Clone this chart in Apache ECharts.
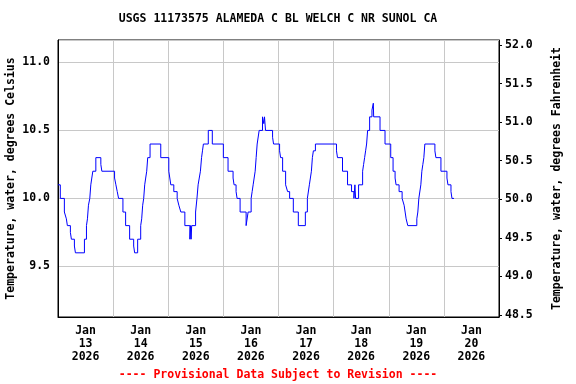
<!DOCTYPE html>
<html>
<head>
<meta charset="utf-8">
<script src="https://cdn.jsdelivr.net/npm/echarts@6/dist/echarts.min.js"></script>
<style>html,body{margin:0;padding:0;background:#fff}#c{width:576px;height:384px}</style>
</head>
<body>
<div id="c"></div>
<script>
// Hours since Jan 13 2026 00:00 at which the reading changes, and the reading (deg C) from then on
const hours = [0, 1.0, 2.77, 3.64, 4.08, 5.39, 5.83, 7.14, 7.58, 11.51, 12.39, 12.82, 13.26, 13.84, 14.28, 14.72, 15.16, 16.47, 18.65, 19.09,
  24.63, 25.21, 25.79, 26.38, 28.27, 29.44, 31.19, 32.94, 33.37, 34.68, 36.0, 36.44, 36.87, 37.31, 37.75, 38.18, 38.62, 39.06, 40.08, 44.74,
  48.24, 49.11, 50.42, 51.88, 52.61, 53.48, 55.23, 57.42, 57.7, 57.95, 58.2, 59.9, 60.5, 61.0, 61.5, 62.0, 62.5, 62.9, 63.3, 65.43, 67.18,
  71.99, 74.03, 76.22, 76.65, 77.53, 77.97, 79.28, 81.9, 82.77, 84.09, 84.53, 84.96, 85.4, 85.84, 86.27, 86.71, 87.58, 89.04, 89.6, 89.9, 90.35, 93.42, 93.85,
  96.47, 96.91, 97.79, 99.1, 99.97, 100.85, 102.45, 104.63, 107.69, 108.57, 109.44, 109.88, 110.32, 110.75, 111.19, 112.07,
  121.25, 121.69, 123.87, 126.06, 127.8, 128.83, 129.27, 129.56, 130.87, 132.62, 133.05, 133.49, 133.93, 134.36, 134.8, 135.68, 136.7, 137.28, 137.43, 140.2, 142.38,
  144.86, 145.88, 146.76, 147.19, 148.5, 149.82, 150.69, 151.13, 151.57, 152.29, 156.22, 156.66, 157.1, 157.97, 158.41, 158.85, 159.28, 159.72, 164.09, 164.53, 166.72,
  169.34, 169.78, 171.09, 171.53, 172.4];
const tempC = [10.1, 10.0, 9.9, 9.85, 9.8, 9.75, 9.7, 9.65, 9.6, 9.7, 9.8, 9.85, 9.95, 10.0, 10.1, 10.15, 10.2, 10.3, 10.25, 10.2,
  10.15, 10.1, 10.05, 10.0, 9.9, 9.8, 9.7, 9.65, 9.6, 9.7, 9.8, 9.85, 9.95, 10.0, 10.1, 10.15, 10.2, 10.3, 10.4, 10.3,
  10.2, 10.1, 10.05, 10.0, 9.95, 9.9, 9.8, 9.7, 9.8, 9.7, 9.8, 9.9, 10.0, 10.1, 10.15, 10.2, 10.3, 10.35, 10.4, 10.5, 10.4,
  10.3, 10.2, 10.15, 10.1, 10.05, 10.0, 9.9, 9.8, 9.9, 10.0, 10.05, 10.1, 10.15, 10.2, 10.3, 10.4, 10.5, 10.6, 10.55, 10.6, 10.5, 10.45, 10.4,
  10.35, 10.3, 10.2, 10.1, 10.05, 10.0, 9.9, 9.8, 9.9, 10.0, 10.1, 10.15, 10.2, 10.3, 10.35, 10.4,
  10.35, 10.3, 10.2, 10.1, 10.05, 10.0, 10.1, 10.0, 10.1, 10.2, 10.25, 10.3, 10.35, 10.4, 10.5, 10.6, 10.65, 10.7, 10.6, 10.5, 10.4,
  10.3, 10.2, 10.15, 10.1, 10.05, 10.0, 9.95, 9.9, 9.85, 9.8, 9.85, 9.9, 10.0, 10.1, 10.2, 10.25, 10.3, 10.4, 10.35, 10.3, 10.2,
  10.15, 10.1, 10.05, 10.0, 10.0];
const dayLabels = ['Jan\n13\n2026', 'Jan\n14\n2026', 'Jan\n15\n2026', 'Jan\n16\n2026', 'Jan\n17\n2026', 'Jan\n18\n2026', 'Jan\n19\n2026', 'Jan\n20\n2026'];
const titleText = 'USGS 11173575 ALAMEDA C BL WELCH C NR SUNOL CA';
const footerText = '---- Provisional Data Subject to Revision ----';
const leftName = 'Temperature, water, degrees Celsius';
const rightName = 'Temperature, water, degrees Fahrenheit';

const FONT = '"DejaVu Sans Mono", "Liberation Mono", monospace';
const data = hours.map((h, i) => [h, tempC[i]]);
const chart = echarts.init(document.getElementById('c'), null, {renderer: 'canvas'});
const txt = {fontFamily: FONT, fontSize: 11.5, fontWeight: 'bold', color: '#000'};
chart.setOption({
  animation: false,
  backgroundColor: '#fff',
  grid: {left: 58, right: 77, top: 40, bottom: 67, show: true, borderColor: '#000', borderWidth: 1, backgroundColor: 'transparent',
         containLabel: false, outerBoundsMode: 'none'},
  graphic: [
    {type: 'text', x: 278, y: 19, style: {text: titleText, textAlign: 'center', textVerticalAlign: 'middle', fill: '#000', font: 'bold 11.5px ' + FONT}},
    {type: 'text', x: 278, y: 375, style: {text: footerText, textAlign: 'center', textVerticalAlign: 'middle', fill: '#ff0000', font: 'bold 11.5px ' + FONT}}
  ],
  xAxis: [
    {type: 'value', min: 0, max: 192, interval: 24, position: 'bottom',
     axisLine: {show: true, onZero: false, lineStyle: {color: '#000'}}, axisTick: {show: false}, axisLabel: {show: false},
     splitLine: {show: true, lineStyle: {color: '#c8c8c8', width: 1}}},
    {type: 'value', min: 0, max: 192, interval: 12, position: 'bottom',
     axisLine: {show: false, onZero: false}, axisTick: {show: false}, splitLine: {show: false},
     axisLabel: Object.assign({margin: 8, lineHeight: 13, align: 'center', showMinLabel: false, showMaxLabel: false,
       formatter: v => (v % 24 === 12) ? dayLabels[(v - 12) / 24] : ''}, txt)}
  ],
  yAxis: [
    {type: 'value', position: 'left', min: 9.128, max: 11.165, splitNumber: 4,
     name: leftName, nameLocation: 'middle', nameRotate: 90, nameGap: 41, nameMoveOverlap: false, nameTextStyle: txt,
     axisLine: {show: true, onZero: false, lineStyle: {color: '#000'}}, axisTick: {show: false},
     axisLabel: Object.assign({margin: 8, showMinLabel: false, showMaxLabel: false, formatter: v => v.toFixed(1)}, txt),
     splitLine: {show: true, lineStyle: {color: '#c8c8c8', width: 1}}},
    {type: 'value', position: 'right', min: 48.474, max: 52.065, splitNumber: 7,
     name: rightName, nameLocation: 'middle', nameRotate: 90, nameGap: 52, nameMoveOverlap: false, nameTextStyle: txt,
     axisLine: {show: true, onZero: false, lineStyle: {color: '#000'}}, axisTick: {show: true, length: 3, inside: false, lineStyle: {color: '#000'}},
     axisLabel: Object.assign({margin: 6, showMinLabel: false, showMaxLabel: false, formatter: v => v.toFixed(1)}, txt),
     splitLine: {show: false}}
  ],
  series: [{
    type: 'line', xAxisIndex: 0, yAxisIndex: 0, data: data, step: 'end', showSymbol: false, symbol: 'none',
    lineStyle: {color: '#0000ff', width: 1}, silent: true
  }]
});
</script>
</body>
</html>
